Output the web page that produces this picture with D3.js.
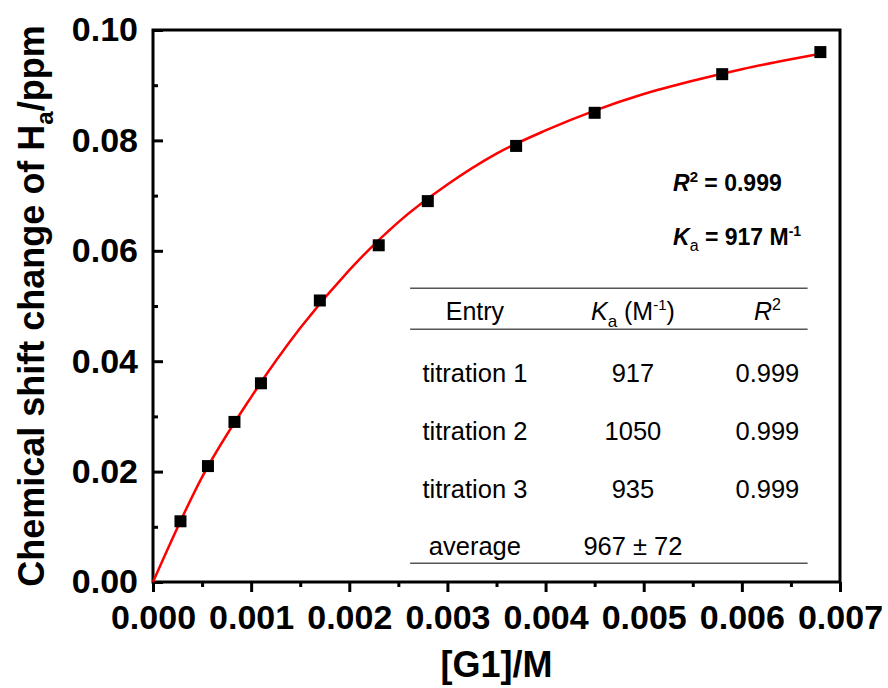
<!DOCTYPE html>
<html>
<head>
<meta charset="utf-8">
<script src="https://cdn.jsdelivr.net/npm/d3@7"></script>
<style>
  body { margin: 0; background: #fff; }
  text { font-family: Arial, "Liberation Sans", sans-serif; }
</style>
</head>
<body>
<svg id="chart" width="888" height="688"></svg>
<script>
// meetpunten (titratie)
var concG1 = [0.00028, 0.00056, 0.00083, 0.0011, 0.0017, 0.0023, 0.0028, 0.0037, 0.0045, 0.0058, 0.0068];
var shiftHa = [0.011, 0.021, 0.029, 0.036, 0.051, 0.061, 0.069, 0.079, 0.085, 0.092, 0.096];

// fitcurve
var fitX = [0, 0.0005, 0.001, 0.0015, 0.002, 0.0025, 0.003, 0.0035, 0.004, 0.0045, 0.005, 0.0055, 0.006, 0.0065, 0.0068];
var fitY = [0, 0.0190, 0.0335, 0.0460, 0.0565, 0.0652, 0.0720, 0.0776, 0.0818, 0.0854, 0.0884, 0.0908, 0.0929, 0.0947, 0.0957];

// tick waarden
var xTicks = [0, 0.001, 0.002, 0.003, 0.004, 0.005, 0.006, 0.007];
var xMinor = [0.0005, 0.0015, 0.0025, 0.0035, 0.0045, 0.0055, 0.0065];
var yTicks = [0, 0.02, 0.04, 0.06, 0.08, 0.10];
var yMinor = [0.01, 0.03, 0.05, 0.07, 0.09];

// tabel
var tableEntries = ["titration 1", "titration 2", "titration 3", "average"];
var tableKa = ["917", "1050", "935", "967 \u00b1 72"];
var tableR2 = ["0.999", "0.999", "0.999", ""];

var svg = d3.select("#chart"),
    margin = {top: 30, right: 48, bottom: 106, left: 153},
    width = +svg.attr("width") - margin.left - margin.right,
    height = +svg.attr("height") - margin.top - margin.bottom,
    g = svg.append("g").attr("transform", "translate(" + margin.left + "," + margin.top + ")");

var x = d3.scaleLinear().domain([0, 0.007]).range([0, width]);
var y = d3.scaleLinear().domain([0, 0.10]).range([height, 0]);

// x-as, ticks naar buiten
var xAxis = g.append("g")
    .attr("transform", "translate(0," + height + ")")
    .call(d3.axisBottom(x).tickValues(xTicks).tickFormat(d3.format(".3f")).tickSize(10).tickSizeOuter(0).tickPadding(13));
xAxis.selectAll("text").attr("font-size", 34).attr("font-weight", "bold").attr("fill", "#000")
    .attr("font-family", "Arial, 'Liberation Sans', sans-serif");

g.append("g")
    .attr("transform", "translate(0," + height + ")")
    .call(d3.axisBottom(x).tickValues(xMinor).tickFormat("").tickSize(5).tickSizeOuter(0));

// y-as, ticks naar binnen
var yAxis = g.append("g")
    .call(d3.axisLeft(y).tickValues(yTicks).tickFormat(d3.format(".2f")).tickSize(-10).tickSizeOuter(0).tickPadding(15));
yAxis.selectAll("text").attr("font-size", 34).attr("font-weight", "bold").attr("fill", "#000")
    .attr("font-family", "Arial, 'Liberation Sans', sans-serif");

g.append("g")
    .call(d3.axisLeft(y).tickValues(yMinor).tickFormat("").tickSize(-5).tickSizeOuter(0));

g.selectAll(".domain").remove();
g.selectAll(".tick line").attr("stroke", "#000").attr("stroke-width", 3);

// kader om het plotgebied
g.append("rect")
    .attr("x", 0).attr("y", 0)
    .attr("width", width).attr("height", height)
    .attr("fill", "none")
    .attr("stroke", "#000")
    .attr("stroke-width", 3);

// tabel
var colX = [x(0.00328), x(0.00489), x(0.00626)];
var tableG = g.append("g");

[0.0532, 0.0458, 0.0034].forEach(function(v) {
  tableG.append("line").attr("x1", x(0.00262)).attr("x2", x(0.00667))
      .attr("y1", y(v)).attr("y2", y(v)).attr("stroke", "#555").attr("stroke-width", 1.5);
});

// kopregel
var head = tableG.append("g").attr("font-size", 25).attr("fill", "#000").attr("text-anchor", "middle");
head.append("text").attr("x", colX[0]).attr("y", y(0.0474)).text("Entry");
var kaHead = head.append("text").attr("x", colX[1]).attr("y", y(0.0474));
kaHead.append("tspan").attr("font-style", "italic").text("K");
kaHead.append("tspan").attr("font-size", 17).attr("dy", 7).text("a");
kaHead.append("tspan").attr("dy", -7).text(" (M");
kaHead.append("tspan").attr("font-size", 15).attr("dy", -10).text("-1");
kaHead.append("tspan").attr("dy", 10).text(")");
var r2Head = head.append("text").attr("x", colX[2]).attr("y", y(0.0474));
r2Head.append("tspan").attr("font-style", "italic").text("R");
r2Head.append("tspan").attr("font-size", 16).attr("dy", -10).text("2");

var rowBase = [0.0362, 0.0257, 0.0152, 0.0049];
var rows = tableG.append("g").attr("font-size", 25.5).attr("fill", "#000").attr("text-anchor", "middle")
  .selectAll("g")
  .data(tableEntries)
  .enter().append("g");
rows.append("text").attr("x", colX[0]).attr("y", function(d, i) { return y(rowBase[i]); }).text(function(d) { return d; });
rows.append("text").attr("x", colX[1]).attr("y", function(d, i) { return y(rowBase[i]); }).text(function(d, i) { return tableKa[i]; });
rows.append("text").attr("x", colX[2]).attr("y", function(d, i) { return y(rowBase[i]); }).text(function(d, i) { return tableR2[i]; });

// fitcurve
var fitData = fitX.map(function(d, i) { return [d, fitY[i]]; });
g.append("path")
    .datum(fitData)
    .attr("fill", "none")
    .attr("stroke", "#ff0000")
    .attr("stroke-width", 2.5)
    .attr("d", d3.line()
        .x(function(d) { return x(d[0]); })
        .y(function(d) { return y(d[1]); })
        .curve(d3.curveMonotoneX));

// meetpunten als vierkantjes
var pts = concG1.map(function(d, i) { return {c: d, s: shiftHa[i]}; });
g.append("g").selectAll("rect")
    .data(pts)
    .enter().append("rect")
      .attr("x", function(d) { return x(d.c) - 6; })
      .attr("y", function(d) { return y(d.s) - 6; })
      .attr("width", 12)
      .attr("height", 12)
      .attr("fill", "#000");

// fitresultaten rechtsboven
var ann = g.append("g").attr("font-size", 23).attr("font-weight", "bold").attr("fill", "#000");
var r2 = ann.append("text").attr("x", 520).attr("y", 161);
r2.append("tspan").attr("font-style", "italic").text("R");
r2.append("tspan").attr("font-size", 15).attr("dy", -9).text("2");
r2.append("tspan").attr("dy", 9).text(" = 0.999");
var ka = ann.append("text").attr("x", 520).attr("y", 215);
ka.append("tspan").attr("font-style", "italic").text("K");
ka.append("tspan").attr("font-size", 16).attr("font-weight", "normal").attr("dy", 6).text("a");
ka.append("tspan").attr("dy", -6).text(" = 917 M");
ka.append("tspan").attr("font-size", 14).attr("dy", -9).text("-1");

// astitels
svg.append("text")
    .attr("x", margin.left + width / 2)
    .attr("y", 677)
    .attr("text-anchor", "middle")
    .attr("font-size", 36)
    .attr("font-weight", "bold")
    .text("[G1]/M");

var yLabel = svg.append("text")
    .attr("transform", "translate(44," + (margin.top + height / 2) + ") rotate(-90)")
    .attr("text-anchor", "middle")
    .attr("font-size", 36)
    .attr("font-weight", "bold");
yLabel.append("tspan").text("Chemical shift change of H");
yLabel.append("tspan").attr("font-size", 24).attr("dy", 9).text("a");
yLabel.append("tspan").attr("dy", -9).text("/ppm");
</script>
</body>
</html>
